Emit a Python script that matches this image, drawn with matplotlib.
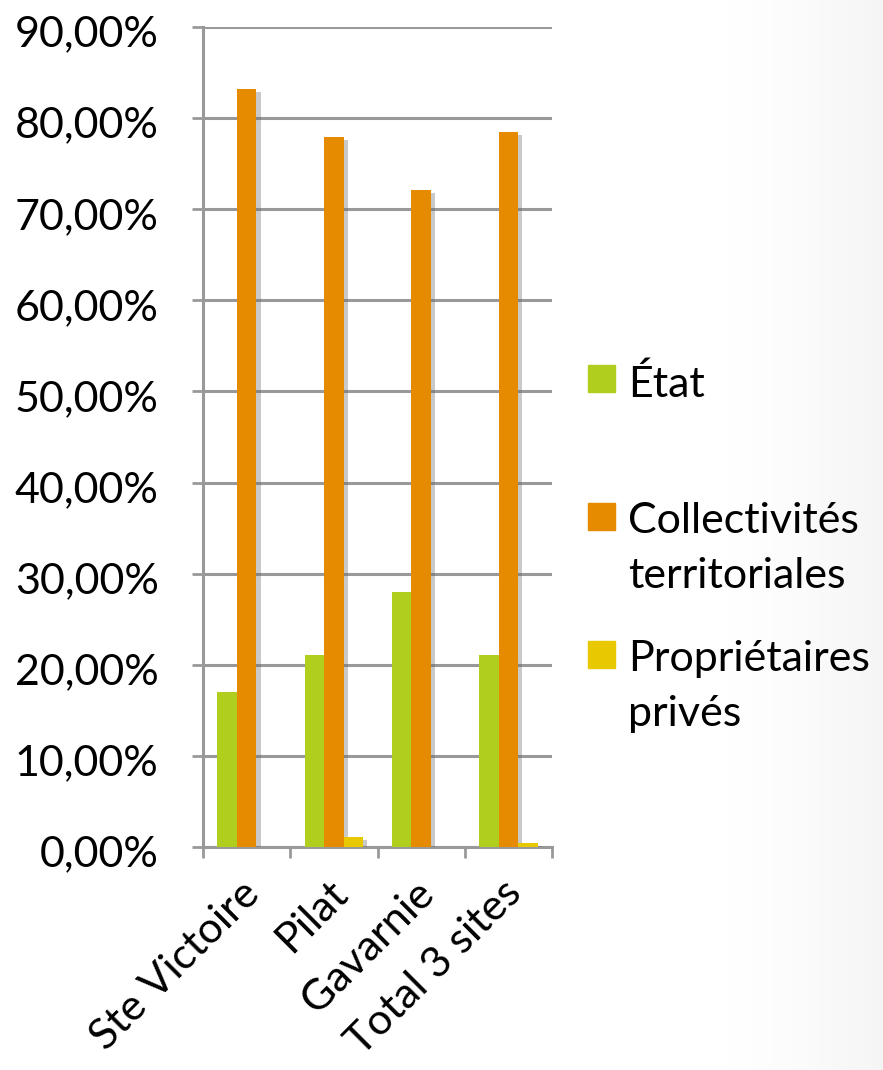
import matplotlib
matplotlib.use("Agg")
import matplotlib.pyplot as plt
import matplotlib.patheffects as pe
import matplotlib.transforms as mtransforms
from matplotlib.patches import Rectangle
import numpy as np

# data
sites = ["Ste Victoire", "Pilat", "Gavarnie", "Total 3 sites"]
etat = [17.0, 21.1, 28.0, 21.1]
collectivites = [83.2, 77.9, 72.1, 78.5]
prives = [0.0, 1.1, 0.0, 0.4]
series_names = ["État", "Collectivités\nterritoriales", "Propriétaires\nprivés"]
colors = ["#AFCE1D", "#E68A00", "#E8C800"]

plt.rcParams['font.family'] = ['Lato', 'DejaVu Sans']
FS = 31

fig = plt.figure(figsize=(8.83, 10.70), dpi=100)

# light gradient on the right edge of the slide
bg = fig.add_axes([0, 0, 1, 1], zorder=-10)
grad = np.linspace(0, 1, 400)
grad = np.clip((grad - 0.8) / 0.2, 0, 1) ** 1.5
bg.imshow(np.tile(grad, (2, 1)), cmap="Greys", vmin=0, vmax=12, aspect="auto", extent=[0, 1, 0, 1])
bg.axis("off")

ax = fig.add_axes([203 / 883, (1070 - 847) / 1070, 349 / 883, 820 / 1070])
ax.patch.set_alpha(0)

x = np.arange(len(sites))
w = 0.224
shadow = [pe.SimplePatchShadow(offset=(3, -2), shadow_rgbFace="#666666", alpha=0.35), pe.Normal()]
for i, vals in enumerate([etat, collectivites, prives]):
    bars = ax.bar(x + (i - 1) * w, vals, w, color=colors[i], zorder=3 + i * 0.1)
    for b in bars:
        b.set_path_effects(shadow)

ax.set_xlim(-0.5, len(sites) - 0.5)
ax.set_ylim(0, 90)
ax.set_yticks(np.arange(0, 91, 10))
ax.set_yticklabels(["%d,00%%" % v for v in range(0, 91, 10)], fontsize=FS)
ax.yaxis.grid(True, color="#999999", linewidth=2.2, zorder=0)
ax.set_axisbelow(True)

ax.set_xticks(x)
ax.set_xticklabels(sites, rotation=45, ha="right", va="center", rotation_mode="anchor", fontsize=FS)
ax.set_xticks(np.arange(-0.5, len(sites), 1), minor=True)
ax.tick_params(axis="x", which="major", length=0, pad=29)
ax.tick_params(axis="x", which="minor", length=8, width=2, color="#999999")
ax.tick_params(axis="y", length=8, width=2, color="#999999", pad=24)
for lab in ax.get_xticklabels():
    lab.set_transform(lab.get_transform() + mtransforms.ScaledTranslation(0.07, 0, fig.dpi_scale_trans))
for lab in ax.get_yticklabels():
    lab.set_transform(lab.get_transform() + mtransforms.ScaledTranslation(0, -0.04, fig.dpi_scale_trans))

for s in ["top", "right"]:
    ax.spines[s].set_visible(False)
ax.spines["left"].set_color("#999999")
ax.spines["left"].set_linewidth(2.2)
ax.spines["bottom"].set_color("#999999")
ax.spines["bottom"].set_linewidth(2.2)

# legend drawn by hand to keep the slide spacing
leg_y = [365, 503, 641]
for name, col, y in zip(series_names, colors, leg_y):
    fig.patches.append(Rectangle((588 / 883, 1 - (y + 27) / 1070), 27 / 883, 27 / 1070,
                                 transform=fig.transFigure, color=col))
    fig.text(628 / 883, 1 - (y - 1) / 1070, name, fontsize=FS, va="top", ha="left",
             linespacing=1.55)

fig.savefig("out.png", dpi=100)
